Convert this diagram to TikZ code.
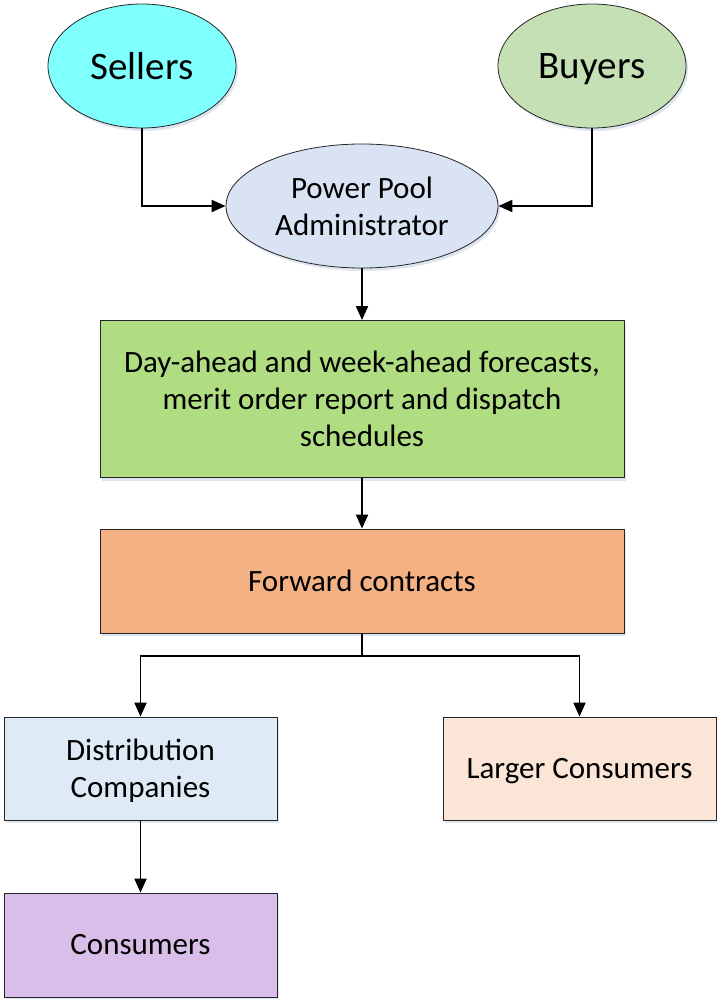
\documentclass[tikz,border=0pt]{standalone}
\usepackage{fontspec}
\setmainfont{Carlito}
\usetikzlibrary{arrows.meta,shapes.geometric,shadows}
\definecolor{cSell}{HTML}{80FFFF}
\definecolor{cBuy}{HTML}{C5E0B4}
\definecolor{cPPA}{HTML}{DAE3F3}
\definecolor{cGreen}{HTML}{B0DC82}
\definecolor{cOrange}{HTML}{F4B183}
\definecolor{cDist}{HTML}{DEEBF7}
\definecolor{cLarge}{HTML}{FBE5D6}
\definecolor{cCons}{HTML}{D8BEE9}
\definecolor{cShadow}{HTML}{C9D3E3}
\tikzset{
  base/.style={draw=black!85, line width=0.8pt, inner sep=0pt, align=center, text=black,
    font=\fontsize{31pt}{37pt}\selectfont,
    drop shadow={shadow xshift=2pt, shadow yshift=-3pt, fill=cShadow, opacity=0.6}},
  oval/.style={base, ellipse},
  bigoval/.style={oval, minimum width=188pt, minimum height=124pt, font=\fontsize{39pt}{44pt}\selectfont},
  boxnode/.style={base, rectangle},
  nodepth/.style={text depth=0pt},
  arr/.style={line width=1.9pt, -{Triangle[length=14pt,width=12pt]}},
  ln/.style={line width=1.9pt}
}
\begin{document}
\begin{tikzpicture}[x=1pt,y=-1pt]
\useasboundingbox (0,0) rectangle (717,999);
\node[bigoval, fill=cSell] (sellers) at (142,66) {Sellers};
\node[bigoval, nodepth, fill=cBuy] (buyers) at (592,66) {Buyers};
\node[oval, fill=cPPA, minimum width=272pt, minimum height=124pt] (ppa) at (362,206) {Power Pool\\Administrator};
\node[boxnode, fill=cGreen, minimum width=524pt, minimum height=157pt] (fore) at (362,399)
  {Day-ahead and week-ahead forecasts,\\merit order report and dispatch\\schedules};
\node[boxnode, fill=cOrange, minimum width=524pt, minimum height=104pt] (fwd) at (362,581) {Forward contracts};
\node[boxnode, nodepth, fill=cDist, minimum width=273pt, minimum height=103pt] (dist) at (140.5,768.5) {Distribution\\Companies};
\node[boxnode, nodepth, fill=cLarge, minimum width=273pt, minimum height=103pt] (large) at (579.5,768.5) {Larger Consumers};
\node[boxnode, fill=cCons, minimum width=273pt, minimum height=104pt] (cons) at (140.5,945) {Consumers};
\coordinate (br) at (362,656);
\draw[arr] (sellers.south) |- (ppa.west);
\draw[arr] (buyers.south) |- (ppa.east);
\draw[arr] (ppa.south) -- (fore.north);
\draw[arr] (fore.south) -- (fwd.north);
\draw[ln] (fwd.south) -- (br);
\draw[arr] (br) -| (dist.north);
\draw[arr] (br) -| (large.north);
\draw[arr] (dist.south) -- (cons.north);
\end{tikzpicture}
\end{document}
